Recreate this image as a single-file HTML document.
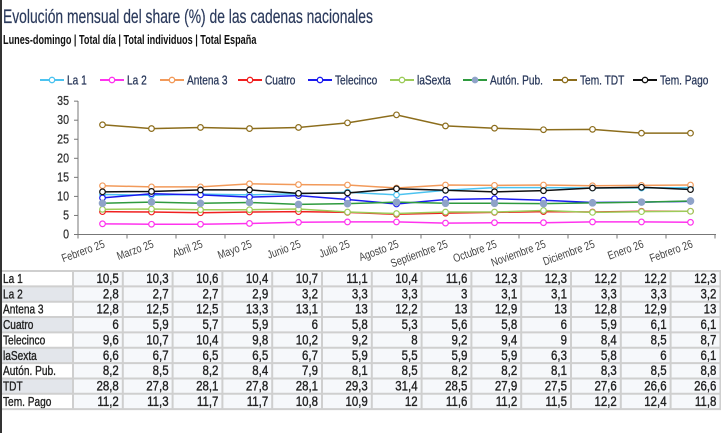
<!DOCTYPE html>
<html><head><meta charset="utf-8"><style>
body{margin:0;width:721px;height:433px;background:#fff;overflow:hidden;position:relative;font-family:"Liberation Sans",sans-serif}
#bar{position:absolute;left:0;top:0;width:2px;height:433px;background:#333}
svg{position:absolute;left:0;top:0}
</style></head><body>
<div id="bar"></div>
<svg id="c" width="721" height="433"></svg>
<script>
(function(){
var months=["Febrero 25","Marzo 25","Abril 25","Mayo 25","Junio 25","Julio 25","Agosto 25","Septiembre 25","Octubre 25","Noviembre 25","Diciembre 25","Enero 26","Febrero 26"];
var S=[
["La 1","#4cc3f0","#fff",[10.5,10.3,10.6,10.4,10.7,11.1,10.4,11.6,12.3,12.3,12.2,12.2,12.3],"La 1"],
["La 2","#ff33ee","#fff",[2.8,2.7,2.7,2.9,3.2,3.3,3.3,3,3.1,3.1,3.3,3.3,3.2],"La 2"],
["Antena 3","#f29a5a","#fff",[12.8,12.5,12.5,13.3,13.1,13,12.2,13,12.9,13,12.8,12.9,13],"Antena 3"],
["Cuatro","#f02020","#fff",[6,5.9,5.7,5.9,6,5.8,5.3,5.6,5.8,6,5.9,6.1,6.1],"Cuatro"],
["Telecinco","#1a1aee","#fff",[9.6,10.7,10.4,9.8,10.2,9.2,8,9.2,9.4,9,8.4,8.5,8.7],"Telecinco"],
["laSexta","#9ccc5a","#fff",[6.6,6.7,6.5,6.5,6.7,5.9,5.5,5.9,5.9,6.3,5.8,6,6.1],"laSexta"],
["Autón. Pub.","#2e9a3e","#8fa3c8",[8.2,8.5,8.2,8.4,7.9,8.1,8.5,8.2,8.2,8.1,8.3,8.5,8.8],"Autón. Pub."],
["Tem. TDT","#8c6d1c","#fff",[28.8,27.8,28.1,27.8,28.1,29.3,31.4,28.5,27.9,27.5,27.6,26.6,26.6],"TDT"],
["Tem. Pago","#111","#fff",[11.2,11.3,11.7,11.7,10.8,10.9,12,11.6,11.2,11.5,12.2,12.4,11.8],"Tem. Pago"]];
var X=i=>102.5+49*i, Y=v=>234.5-3.81*v;
function T(x,y,s,size,opt){opt=opt||{};var sc=opt.sc||0.78;var a=opt.a||'start';var f=opt.f||'#222';
return '<text transform="translate('+x+','+y+')'+(opt.rot?' rotate('+opt.rot+')':'')+' scale('+sc+',1)" font-size="'+size+'" text-anchor="'+a+'" fill="'+f+'"'+(opt.b?' font-weight="bold"':'')+(opt.s?' stroke="'+f+'" stroke-width="'+opt.s+'"':'')+'>'+s+'</text>';}
var h='';
h+=T(3,23,'Evolución mensual del share (%) de las cadenas nacionales',19,{sc:0.73,f:'#2b3a5c',s:0.2});
h+=T(3,44,'Lunes-domingo | Total día | Total individuos | Total España',12.5,{sc:0.73,f:'#111',b:1});
h+='<line x1="78" y1="101" x2="78" y2="234.5" stroke="#777"/><line x1="78" y1="234.5" x2="716" y2="234.5" stroke="#777"/>';
for(var v=0;v<=35;v+=5){h+='<line x1="74" x2="78" y1="'+Y(v)+'" y2="'+Y(v)+'" stroke="#777"/>'+T(69,Y(v)+4,v,12.5,{a:'end',f:'#333',sc:0.85,s:0.25});}
for(var i=0;i<=13;i++){var x=78+49*i;h+='<line x1="'+x+'" x2="'+x+'" y1="234.5" y2="238.5" stroke="#777"/>';}
months.forEach((m,i)=>{h+=T(X(i)+3,247,m,11.5,{a:'end',f:'#444',rot:-20,sc:0.8});});
var lx=[40,100,160,238,308,390,463,553,633];
S.forEach((s,k)=>{var x=lx[k];h+='<line x1="'+x+'" x2="'+(x+24)+'" y1="80" y2="80" stroke="'+s[1]+'" stroke-width="2"/><circle cx="'+(x+12)+'" cy="80" r="2.7" fill="'+s[2]+'" stroke="'+(k==6?'#8fa3c8':s[1])+'" stroke-width="1.3"/>'+T(x+27,84.5,s[0],13,{f:'#2b3a5c',s:0.3});});
S.forEach((s,k)=>{var p=s[3].map((v,i)=>X(i)+','+Y(v)).join(' ');h+='<polyline points="'+p+'" fill="none" stroke="'+s[1]+'" stroke-width="1.5"/>';
s[3].forEach((v,i)=>{h+='<circle cx="'+X(i)+'" cy="'+Y(v)+'" r="'+(k==6?3.2:2.8)+'" fill="'+s[2]+'" stroke="'+(k==6?'#8fa3c8':s[1])+'" stroke-width="1.2"/>';});});
var t0=271,rh=15.35,cw=49.8,c0=73;
S.forEach((s,k)=>{var y=t0+k*rh;
h+='<rect x="2" y="'+y+'" width="'+(c0-2)+'" height="'+rh+'" fill="'+(k%2?'#e3e6eb':'#fff')+'"/>';
h+='<rect x="'+c0+'" y="'+y+'" width="'+(721-c0)+'" height="'+rh+'" fill="#f6f8fb"/>';
h+=T(3,y+12,s[4],13,{f:'#222',s:0.35});
s[3].forEach((v,j)=>{h+=T(c0+cw*(j+1)-4,y+12,String(v).replace('.',','),13.5,{a:'end',f:'#222',sc:0.85,s:0.35});});});
for(var k=0;k<=9;k++){var y=t0+k*rh;h+='<line x1="2" x2="721" y1="'+y+'" y2="'+y+'" stroke="#cfcfcf" stroke-width="2"/>';}
for(var j=0;j<=13;j++){var x=c0+cw*j;h+='<line x1="'+x+'" x2="'+x+'" y1="'+t0+'" y2="'+(t0+9*rh)+'" stroke="#cfcfcf" stroke-width="2"/>';}
document.getElementById('c').innerHTML=h;
})();
</script>
</body></html>
